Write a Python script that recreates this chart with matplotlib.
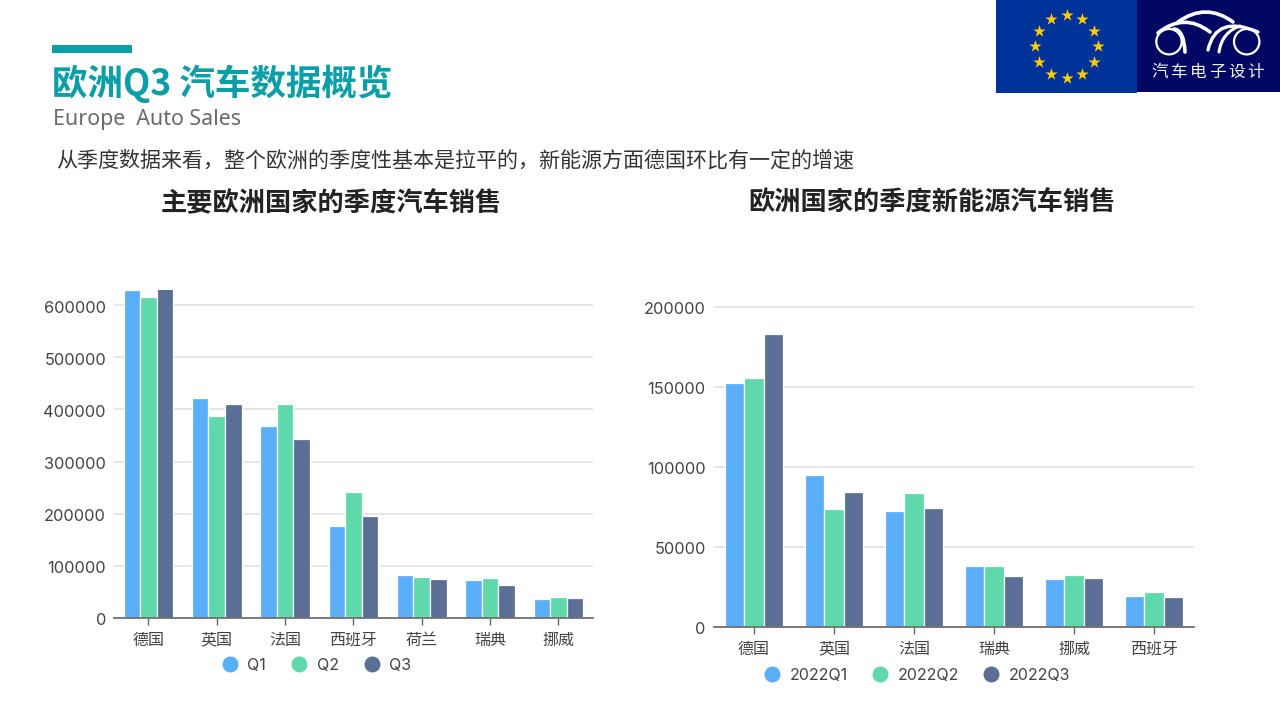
import numpy as np
import matplotlib
matplotlib.use("Agg")
import matplotlib.pyplot as plt
from matplotlib.lines import Line2D
from matplotlib.patches import Rectangle, PathPatch, Circle
from matplotlib.path import Path
from matplotlib.transforms import ScaledTranslation

CJK = ['Noto Sans CJK SC', 'DejaVu Sans']
NUM = ['Inter', 'Noto Sans CJK SC']
plt.rcParams['font.family'] = CJK

# ---- data ----
left_categories = ['德国', '英国', '法国', '西班牙', '荷兰', '瑞典', '挪威']
left_q1 = [630000, 421000, 369000, 177000, 82000, 72000, 35000]
left_q2 = [616000, 388000, 410000, 242000, 79000, 77000, 39000]
left_q3 = [635000, 410000, 344000, 196000, 75000, 63000, 37000]
left_labels = ['Q1', 'Q2', 'Q3']
left_ticks = [0, 100000, 200000, 300000, 400000, 500000, 600000]

right_categories = ['德国', '英国', '法国', '瑞典', '挪威', '西班牙']
right_q1 = [152500, 95000, 72500, 38000, 30000, 19000]
right_q2 = [155500, 73500, 83500, 38000, 32500, 21500]
right_q3 = [183000, 84500, 74500, 31500, 30500, 18800]
right_labels = ['2022Q1', '2022Q2', '2022Q3']
right_ticks = [0, 50000, 100000, 150000, 200000]

COLORS = ['#5AAEF7', '#5FD9AC', '#5B6E96']
TEAL = '#0A9EA6'
W, H = 1280, 720

fig = plt.figure(figsize=(12.8, 7.2), dpi=100, facecolor='white')


def make_axes(x0, x1, ytop, ybot):
    return fig.add_axes([x0 / W, 1 - ybot / H, (x1 - x0) / W, (ybot - ytop) / H])


def bars(ax, cats, series, ticks, ymax, legend_labels, legend_anchor, colspace):
    x = np.arange(len(cats))
    w = 0.243
    for i, s in enumerate(series):
        ax.bar(x + (i - 1) * w, s, width=w, color=COLORS[i],
               edgecolor='white', linewidth=0.9, zorder=3)
    ax.set_xlim(-0.5, len(cats) - 0.5)
    ax.set_ylim(0, ymax)
    ax.set_yticks(ticks)
    ax.set_xticks(x)
    ax.set_xticklabels(cats, fontsize=11.5, color='#444444')
    ax.tick_params(axis='y', length=0, pad=6)
    ax.tick_params(axis='x', length=5, width=1, color='#666666', pad=5)
    shift = ScaledTranslation(0, -0.9 / 72, fig.dpi_scale_trans)
    for lab in ax.get_yticklabels():
        lab.set_family(NUM)
        lab.set_fontsize(11.8)
        lab.set_color('#444444')
        lab.set_transform(lab.get_transform() + shift)
    ax.grid(axis='y', color='#E2E2E2', lw=1.2, zorder=0)
    for sp in ['top', 'left', 'right']:
        ax.spines[sp].set_visible(False)
    ax.spines['bottom'].set_color('#707070')
    ax.spines['bottom'].set_linewidth(1.3)
    ax.spines['bottom'].set_zorder(5)
    handles = [Line2D([], [], ls='none', marker='o', ms=11.5, color=c, mec='none')
               for c in COLORS]
    leg = fig.legend(handles, legend_labels, ncol=3, frameon=False,
                     loc='center', bbox_to_anchor=(legend_anchor[0] / W, 1 - legend_anchor[1] / H),
                     handletextpad=0.17, handlelength=1.8, columnspacing=colspace, borderpad=0,
                     prop={'family': NUM, 'size': 11.5})
    for t in leg.get_texts():
        t.set_color('#444444')


axL = make_axes(114.3, 592.6, 290, 617.7)
yL = 600000 * (617.7 - 290) / (617.7 - 305.3)
bars(axL, left_categories, [left_q1, left_q2, left_q3], left_ticks, yL,
     left_labels, (313.5, 665.5), 1.18)
axR = make_axes(714, 1194, 300, 626.7)
yR = 200000 * (626.7 - 300) / (626.7 - 306.7)
bars(axR, right_categories, [right_q1, right_q2, right_q3], right_ticks, yR,
     right_labels, (914, 675.5), 1.15)

# ---- page furniture in pixel coordinates ----
pg = fig.add_axes([0, 0, 1, 1], zorder=10)
pg.set_xlim(0, W)
pg.set_ylim(H, 0)
pg.axis('off')
pg.patch.set_alpha(0)

pg.add_patch(Rectangle((52, 45), 80, 8, color=TEAL, lw=0))
pg.text(52, 84, '欧洲Q3 汽车数据概览', fontsize=25.6, fontweight='bold', color=TEAL, va='center', ha='left')
pg.text(53, 120, 'Europe  Auto Sales', fontsize=15.4, color='#6A6A6A', va='center', ha='left',
        family=['Noto Sans', 'DejaVu Sans'])
pg.text(56, 161, '从季度数据来看，整个欧洲的季度性基本是拉平的，新能源方面德国环比有一定的增速',
        fontsize=15.15, color='#333333', va='center', ha='left')
pg.text(331, 204, '主要欧洲国家的季度汽车销售', fontsize=18.9, fontweight='bold', color='#222222',
        va='center', ha='center')
pg.text(932, 203, '欧洲国家的季度新能源汽车销售', fontsize=18.9, fontweight='bold', color='#222222',
        va='center', ha='center')

# EU flag
pg.add_patch(Rectangle((996, 0), 141, 93, color='#003399', lw=0))
ang = np.deg2rad(np.arange(0, 360, 30))
pg.scatter(1066.7 + 31.5 * np.cos(ang), 46.3 + 31.5 * np.sin(ang), marker='*', s=85,
           color='#FFCC00', linewidths=0, zorder=3)

# logo
pg.add_patch(Rectangle((1137, 0), 143, 92, color='#020764', lw=0))
for cx in (1169, 1246.7):
    pg.add_patch(Circle((cx, 41.7), 12.7, fill=False, ec='white', lw=1.6, zorder=3))


def curve(p0, c, p1, lw):
    pg.add_patch(PathPatch(Path([p0, c, p1], [Path.MOVETO, Path.CURVE3, Path.CURVE3]),
                           fill=False, ec='white', lw=lw, capstyle='round', zorder=3))


curve((1178, 22), (1206, 2), (1233, 22), 2.6)
curve((1158, 33), (1184, 12), (1210, 32), 2.6)
curve((1208, 50), (1216, 14), (1258, 32), 2.4)
curve((1185, 52), (1184, 30), (1174, 29), 2.6)
curve((1219, 52), (1222, 32), (1240, 26), 2.2)
for i, ch in enumerate('汽车电子设计'):
    pg.text(1160 + i * 19.2, 72.5, ch, fontsize=12, color='#F2F2F2', ha='center', va='center', zorder=3)

fig.savefig('out.png', dpi=100, facecolor='white')
